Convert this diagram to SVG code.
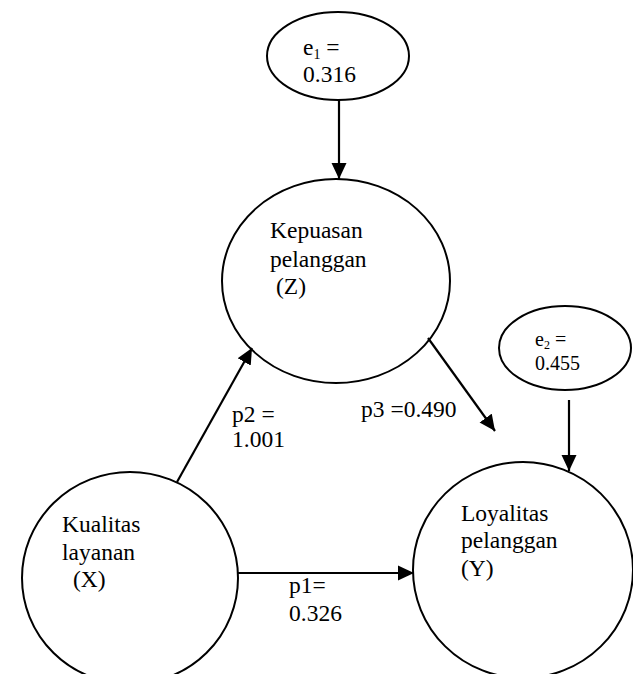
<svg xmlns="http://www.w3.org/2000/svg" width="633" height="674" viewBox="0 0 633 674">
<style>
.node{fill:#fff;stroke:#000;stroke-width:2}
.t{font-size:23.5px;fill:#000}
.s{font-size:20px;fill:#000}
.c{stroke:#000;stroke-width:2.2;fill:none}
</style>
<defs>
<marker id="ah" markerUnits="userSpaceOnUse" markerWidth="16" markerHeight="16" viewBox="0 0 16 16" refX="16" refY="8" orient="auto">
<path d="M0,0.5 L16,8 L0,15.5 Z" fill="#000"/>
</marker>
</defs>
<g font-family="Liberation Serif, Times New Roman, DejaVu Serif, serif">
<g id="e1">
<ellipse class="node" cx="338" cy="56" rx="71" ry="44"/>
<text class="t" x="303" y="55">e<tspan font-size="14" dy="4">1</tspan><tspan dy="-4"> =</tspan></text>
<text class="t" x="303" y="82">0.316</text>
</g>
<g id="Z">
<ellipse class="node" cx="336" cy="281" rx="114" ry="102"/>
<text class="t" x="270" y="238">Kepuasan</text>
<text class="t" x="270" y="267">pelanggan</text>
<text class="t" x="276" y="294">(Z)</text>
</g>
<g id="e2">
<ellipse class="node" cx="565" cy="348" rx="66" ry="42"/>
<text class="s" x="535" y="346">e<tspan font-size="12" dy="3">2</tspan><tspan dy="-3"> =</tspan></text>
<text class="s" x="535" y="370">0.455</text>
</g>
<g id="X">
<ellipse class="node" cx="130" cy="578" rx="108" ry="106"/>
<text class="t" x="62" y="532">Kualitas</text>
<text class="t" x="62" y="560">layanan</text>
<text class="t" x="73" y="587">(X)</text>
</g>
<g id="Y">
<ellipse class="node" cx="523" cy="570" rx="110" ry="108"/>
<text class="t" x="461" y="521">Loyalitas</text>
<text class="t" x="461" y="548">pelanggan</text>
<text class="t" x="461" y="576">(Y)</text>
</g>
<g id="connectors">
<line class="c" x1="339" y1="100" x2="339" y2="179" marker-end="url(#ah)"/>
<line class="c" x1="569" y1="400" x2="569" y2="471" marker-end="url(#ah)"/>
<line class="c" x1="177" y1="482" x2="252" y2="348" marker-end="url(#ah)"/>
<line class="c" x1="428" y1="338" x2="495" y2="431" marker-end="url(#ah)"/>
<line class="c" x1="238" y1="573" x2="414" y2="573" marker-end="url(#ah)"/>
</g>
<g id="labels">
<text class="t" x="232" y="422">p2 =</text>
<text class="t" x="232" y="447">1.001</text>
<text class="t" x="361" y="417">p3 =0.490</text>
<text class="t" x="289" y="593">p1=</text>
<text class="t" x="289" y="621">0.326</text>
</g>
</g>
</svg>
